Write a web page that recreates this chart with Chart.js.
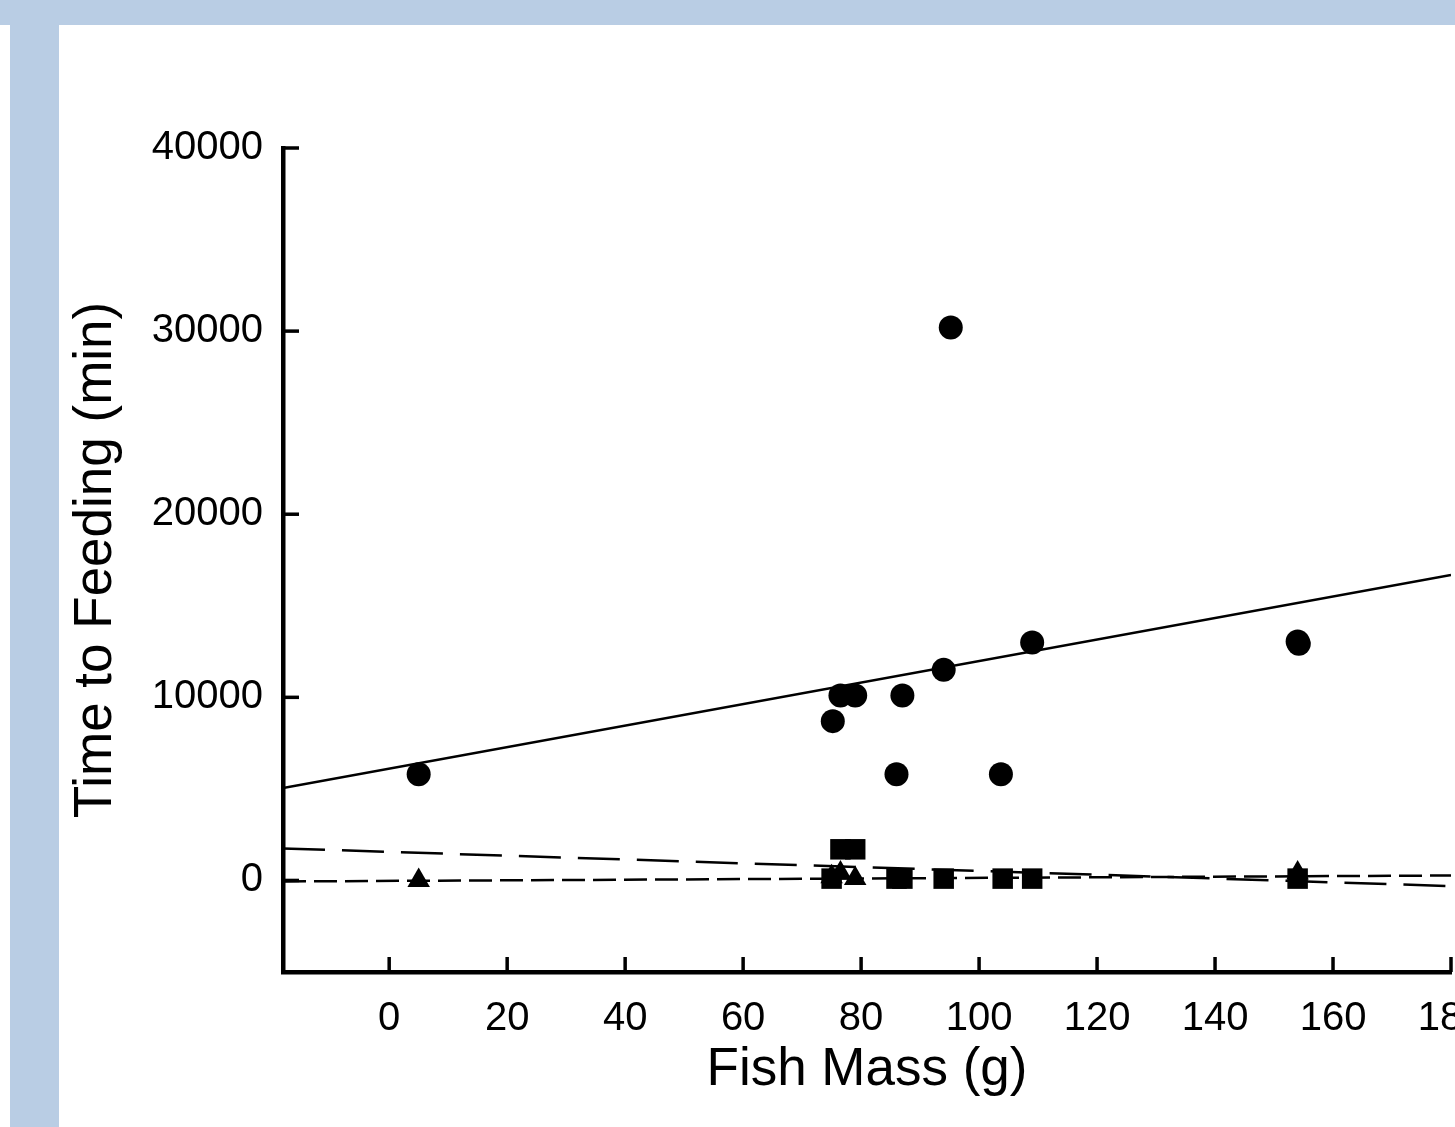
<!DOCTYPE html>
<html>
<head>
<meta charset="utf-8">
<script src="https://cdn.jsdelivr.net/npm/chart.js@4.4.1/dist/chart.umd.min.js"></script>
<style>
  html, body { margin: 0; padding: 0; background: #ffffff; width: 1455px; height: 1127px; overflow: hidden; position: relative; }
  #topBand { position: absolute; left: 0; top: 0; width: 1455px; height: 25px; background: #b9cde4; }
  #leftBand { position: absolute; left: 10px; top: 0; width: 49px; height: 1127px; background: #b9cde4; }
  #c { position: absolute; left: 0; top: 0; }
</style>
</head>
<body>
<div id="topBand"></div>
<div id="leftBand"></div>
<canvas id="c" width="1500" height="1127"></canvas>
<script>
// ---- data ----
const circleMass = [5, 75.2, 76.5, 79, 86, 87, 94, 95.2, 103.7, 109, 154, 154.2];
const circleTime = [5800, 8700, 10100, 10100, 5800, 10100, 11500, 30200, 5800, 13000, 13050, 12920];

const squareMass = [75, 76.5, 79, 86, 87, 94, 104, 109, 154];
const squareTime = [100, 1700, 1700, 100, 100, 100, 100, 100, 100];

const triangleMass = [5, 75, 76.5, 79, 154];
const triangleTime = [0, 200, 400, 100, 400];

// regression lines: solid (circles), long dash, short dash
const fitIntercepts = [6110, 1560, -26];
const fitSlopes = [58.7, -10.4, 1.65];
const fitDashes = [[], [42, 17], [23, 8]];

const xTickValues = [0, 20, 40, 60, 80, 100, 120, 140, 160, 180];
const yTickValues = [0, 10000, 20000, 30000, 40000];
const xRange = [-18, 180];
const yRange = [-5000, 40000];

// ---- build ----
const toPts = (xs, ys) => xs.map((x, i) => ({ x: x, y: ys[i] }));
const fitData = fitIntercepts.map((b, i) => xRange.map(x => ({ x: x, y: b + fitSlopes[i] * x })));

const FONT = "'Liberation Sans', Arial, sans-serif";

const inwardTicks = {
  id: 'inwardTicks',
  afterDraw(chart) {
    const { ctx, chartArea, scales } = chart;
    ctx.save();
    ctx.strokeStyle = '#000';
    ctx.lineWidth = 3.5;
    ctx.lineCap = 'butt';
    xTickValues.forEach(v => {
      const px = scales.x.getPixelForValue(v);
      ctx.beginPath();
      ctx.moveTo(px, chartArea.bottom);
      ctx.lineTo(px, chartArea.bottom - 15);
      ctx.stroke();
    });
    yTickValues.forEach(v => {
      const py = scales.y.getPixelForValue(v);
      ctx.beginPath();
      ctx.moveTo(chartArea.left, py);
      ctx.lineTo(chartArea.left + 16, py);
      ctx.stroke();
    });
    ctx.restore();
  }
};

const datasets = [
  { label: 'squares', data: toPts(squareMass, squareTime), pointStyle: 'rect', pointRadius: 14.5,
    backgroundColor: '#000', borderColor: '#000', borderWidth: 0, order: 0 },
  { label: 'triangles', data: toPts(triangleMass, triangleTime), pointStyle: 'triangle', pointRadius: 13,
    backgroundColor: '#000', borderColor: '#000', borderWidth: 0, order: 1 },
  { label: 'circles', data: toPts(circleMass, circleTime), pointStyle: 'circle', pointRadius: 12,
    backgroundColor: '#000', borderColor: '#000', borderWidth: 0, order: 2 }
];
fitData.forEach((d, i) => {
  datasets.push({ label: 'fit' + i, data: d, showLine: true, pointRadius: 0, borderColor: '#000',
    borderWidth: 2.5, borderDash: fitDashes[i], fill: false, order: 3 + i });
});

new Chart(document.getElementById('c'), {
  type: 'scatter',
  data: { datasets: datasets },
  options: {
    responsive: false,
    devicePixelRatio: 1,
    animation: false,
    layout: { padding: { left: 0, top: 148, right: 49, bottom: 0 } },
    plugins: { legend: { display: false }, tooltip: { enabled: false } },
    scales: {
      x: {
        type: 'linear', min: xRange[0], max: xRange[1],
        afterFit(s) { s.height = 155; },
        afterBuildTicks(s) { s.ticks = xTickValues.map(v => ({ value: v })); },
        grid: { display: false },
        border: { display: true, color: '#000', width: 4.5 },
        ticks: { color: '#000', padding: 15, maxRotation: 0, autoSkip: false, font: { family: FONT, size: 40 } },
        title: { display: true, text: 'Fish Mass (g)', color: '#000', font: { family: FONT, size: 53, lineHeight: 1 }, padding: { top: 0, bottom: 30 } }
      },
      y: {
        type: 'linear', min: yRange[0], max: yRange[1],
        afterFit(s) { s.width = 283; },
        afterBuildTicks(s) { s.ticks = yTickValues.map(v => ({ value: v })); },
        grid: { display: false },
        border: { display: true, color: '#000', width: 4.5 },
        ticks: { color: '#000', padding: 12, autoSkip: false, font: { family: FONT, size: 40 }, callback: v => String(v) },
        title: { display: true, text: 'Time to Feeding (min)', color: '#000', font: { family: FONT, size: 53, lineHeight: 1 }, padding: { top: 70, bottom: 0 } }
      }
    }
  },
  plugins: [inwardTicks]
});
</script>
</body>
</html>
